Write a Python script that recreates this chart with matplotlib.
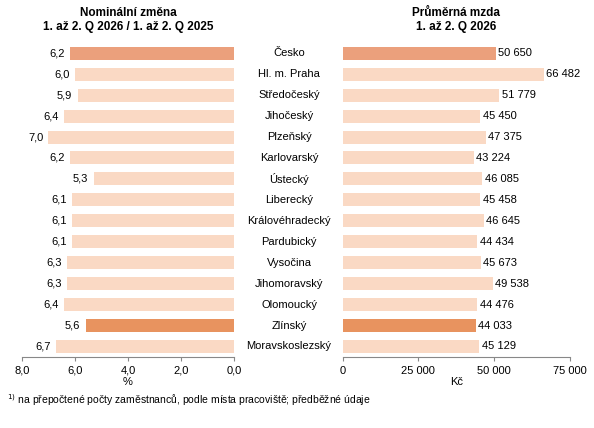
import matplotlib
matplotlib.use("Agg")
import matplotlib.pyplot as plt

regions = ["Česko","Hl. m. Praha","Středočeský","Jihočeský","Plzeňský","Karlovarský","Ústecký",
           "Liberecký","Královéhradecký","Pardubický","Vysočina","Jihomoravský","Olomoucký","Zlínský","Moravskoslezský"]
change = [6.2,6.0,5.9,6.4,7.0,6.2,5.3,6.1,6.1,6.1,6.3,6.3,6.4,5.6,6.7]
wage = [50650,66482,51779,45450,47375,43224,46085,45458,46645,44434,45673,49538,44476,44033,45129]
left_ticks = [8.0,6.0,4.0,2.0,0.0]
right_ticks = [0,25000,50000,75000]

def fmt(v):
    return f"{v:,.0f}".replace(",", " ")

cols = []
for r in regions:
    if r == "Česko": cols.append("#EBA07C")
    elif r == "Zlínský": cols.append("#E8935F")
    else: cols.append("#FAD9C4")

plt.rcParams['font.family'] = ['Liberation Sans', 'DejaVu Sans']
fig = plt.figure(figsize=(5.94,4.28), dpi=100)
axL = fig.add_axes([0.037,0.166,0.357,0.734])
axR = fig.add_axes([0.577,0.166,0.382,0.734])
y = list(range(len(regions)))
for ax in (axL, axR):
    ax.set_ylim(len(regions)-0.5, -0.5)
    ax.set_yticks([])
    for s in ("top","left","right"):
        ax.spines[s].set_visible(False)
    ax.spines["bottom"].set_color("#888888")
    ax.tick_params(axis='x', labelsize=8, length=3, color="#888888")

axL.barh(y, change, height=0.62, color=cols)
axL.set_xlim(8, 0)
axL.set_xticks(left_ticks)
axL.set_xticklabels([f"{t:.1f}".replace(".", ",") for t in left_ticks])
axL.set_xlabel("%", fontsize=8, labelpad=1)
for i, v in enumerate(change):
    axL.text(v+0.2, i, f"{v:.1f}".replace(".", ","), ha="right", va="center", fontsize=8)
axL.set_title("Nominální změna\n1. až 2. Q 2026 / 1. až 2. Q 2025", fontsize=8.5, fontweight="bold", pad=9)

axR.barh(y, wage, height=0.62, color=cols)
axR.set_xlim(0, 75000)
axR.set_xticks(right_ticks)
axR.set_xticklabels([fmt(t) for t in right_ticks])
axR.set_xlabel("Kč", fontsize=8, labelpad=1)
for i, v in enumerate(wage):
    axR.text(v+800, i, fmt(v), ha="left", va="center", fontsize=8)
axR.set_title("Průměrná mzda\n1. až 2. Q 2026", fontsize=8.5, fontweight="bold", pad=9)

for i, r in enumerate(regions):
    yy = axL.transData.transform((0, i))[1]
    fig.text(289/594, fig.transFigure.inverted().transform((0, yy))[1], r, ha="center", va="center", fontsize=8)

fig.text(0.012, 0.065, "$^{1)}$ na přepočtené počty zaměstnanců, podle místa pracoviště; předběžné údaje", fontsize=7.5, va="center")
fig.savefig("out.png", dpi=100)
